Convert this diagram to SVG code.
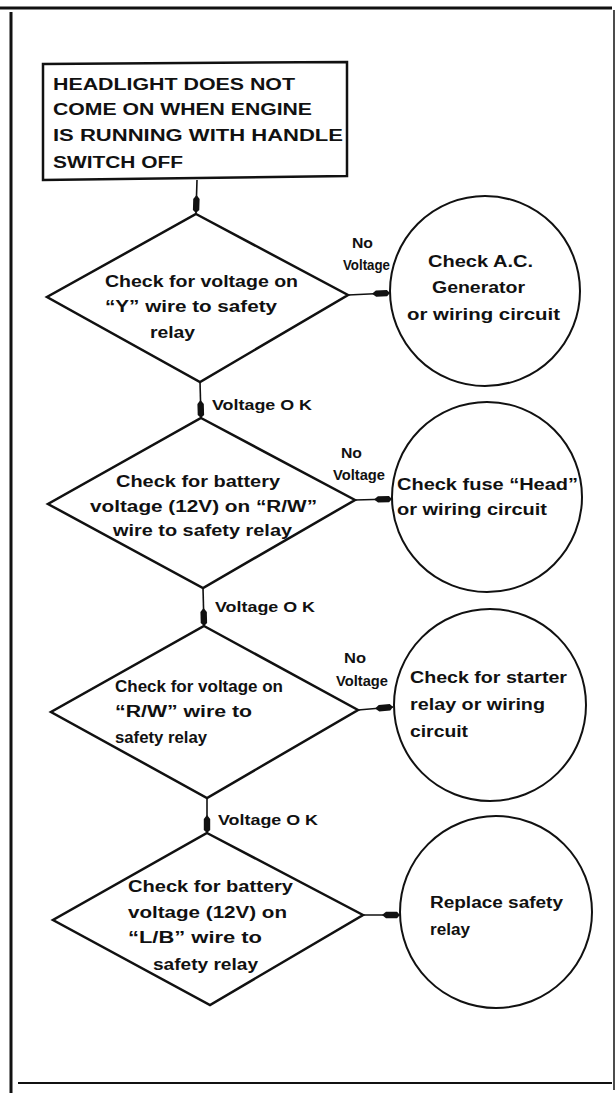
<svg xmlns="http://www.w3.org/2000/svg" width="616" height="1093" viewBox="0 0 616 1093">
<defs>
<style>
.t{font-family:"Liberation Sans",Arial,Helvetica,sans-serif;font-weight:bold;font-size:16px;fill:#111}
.s{font-size:14px}
.m{font-size:15px}
.shape{fill:#fff;stroke:#111;stroke-width:2.5;stroke-linejoin:miter}
.circ{fill:#fff;stroke:#111;stroke-width:2}
.frame{stroke:#111;fill:none}
.conn{stroke:#111;stroke-width:1.6;fill:none}
</style>
<marker id="ah" markerUnits="userSpaceOnUse" markerWidth="20" markerHeight="10" refX="18" refY="5" orient="auto">
<path d="M0,5 L4,1.8 L15,1.8 L18,5 L15,8.2 L4,8.2 Z" fill="#111"/>
</marker>
</defs>
<rect width="616" height="1093" fill="#fff"/>
<g id="frame">
<line class="frame" x1="0" y1="8" x2="612" y2="8" stroke-width="3"/>
<line class="frame" x1="11" y1="12" x2="11" y2="1093" stroke-width="3"/>
<line class="frame" x1="614" y1="10" x2="614" y2="1090" stroke-width="1.5"/>
<line class="frame" x1="18" y1="1083" x2="612" y2="1083" stroke-width="2"/>
</g>
<g id="connectors">
<path class="conn" d="M197,180 L196,213" marker-end="url(#ah)"/>
<path class="conn" d="M200,382 L201,418" marker-end="url(#ah)"/>
<path class="conn" d="M203,588 L204,626" marker-end="url(#ah)"/>
<path class="conn" d="M207,798 L207,833" marker-end="url(#ah)"/>
<path class="conn" d="M348,295 L390,293" marker-end="url(#ah)"/>
<path class="conn" d="M355,500 L392,499" marker-end="url(#ah)"/>
<path class="conn" d="M358,710 L393,707" marker-end="url(#ah)"/>
<path class="conn" d="M363,915 L400,915" marker-end="url(#ah)"/>
<text class="t s" x="352" y="248" textLength="21" lengthAdjust="spacingAndGlyphs">No</text>
<text class="t s" x="343" y="270" textLength="47" lengthAdjust="spacingAndGlyphs">Voltage</text>
<text class="t s" x="341" y="458" textLength="21" lengthAdjust="spacingAndGlyphs">No</text>
<text class="t s" x="333" y="480" textLength="52" lengthAdjust="spacingAndGlyphs">Voltage</text>
<text class="t s" x="344" y="663" textLength="22" lengthAdjust="spacingAndGlyphs">No</text>
<text class="t s" x="336" y="686" textLength="52" lengthAdjust="spacingAndGlyphs">Voltage</text>
<text class="t m" x="212" y="410" textLength="100" lengthAdjust="spacingAndGlyphs">Voltage O K</text>
<text class="t m" x="215" y="612" textLength="100" lengthAdjust="spacingAndGlyphs">Voltage O K</text>
<text class="t m" x="218" y="825" textLength="100" lengthAdjust="spacingAndGlyphs">Voltage O K</text>
</g>
<g id="start">
<path class="shape" d="M43,64 L347,62 L347,176 L43,180 Z"/>
<text class="t" x="53" y="90" textLength="242" lengthAdjust="spacingAndGlyphs">HEADLIGHT DOES NOT</text>
<text class="t" x="53" y="115" textLength="259" lengthAdjust="spacingAndGlyphs">COME ON WHEN ENGINE</text>
<text class="t" x="53" y="141" textLength="290" lengthAdjust="spacingAndGlyphs">IS RUNNING WITH HANDLE</text>
<text class="t" x="53" y="168" textLength="130" lengthAdjust="spacingAndGlyphs">SWITCH OFF</text>
</g>
<g id="d1">
<path class="shape" d="M196,214 L348,295 L200,382 L47,297 Z"/>
<text class="t" x="105" y="287" textLength="193" lengthAdjust="spacingAndGlyphs">Check for voltage on</text>
<text class="t" x="105" y="312" textLength="172" lengthAdjust="spacingAndGlyphs">“Y” wire to safety</text>
<text class="t" x="150" y="338" textLength="45" lengthAdjust="spacingAndGlyphs">relay</text>
</g>
<g id="c1">
<circle class="circ" cx="485" cy="291" r="95"/>
<text class="t" x="428" y="267" textLength="105" lengthAdjust="spacingAndGlyphs">Check A.C.</text>
<text class="t" x="432" y="293" textLength="93" lengthAdjust="spacingAndGlyphs">Generator</text>
<text class="t" x="407" y="320" textLength="153" lengthAdjust="spacingAndGlyphs">or wiring circuit</text>
</g>
<g id="d2">
<path class="shape" d="M201,418 L355,500 L203,588 L48,504 Z"/>
<text class="t" x="116" y="487" textLength="164" lengthAdjust="spacingAndGlyphs">Check for battery</text>
<text class="t" x="90" y="512" textLength="227" lengthAdjust="spacingAndGlyphs">voltage (12V) on “R/W”</text>
<text class="t" x="113" y="536" textLength="179" lengthAdjust="spacingAndGlyphs">wire to safety relay</text>
</g>
<g id="c2">
<circle class="circ" cx="487" cy="497" r="95"/>
<text class="t" x="397" y="490" textLength="181" lengthAdjust="spacingAndGlyphs">Check fuse “Head”</text>
<text class="t" x="397" y="515" textLength="150" lengthAdjust="spacingAndGlyphs">or wiring circuit</text>
</g>
<g id="d3">
<path class="shape" d="M204,626 L358,710 L207,798 L51,712 Z"/>
<text class="t" x="115" y="692" textLength="168" lengthAdjust="spacingAndGlyphs">Check for voltage on</text>
<text class="t" x="115" y="717" textLength="137" lengthAdjust="spacingAndGlyphs">“R/W” wire to</text>
<text class="t" x="115" y="743" textLength="92" lengthAdjust="spacingAndGlyphs">safety relay</text>
</g>
<g id="c3">
<circle class="circ" cx="490" cy="705" r="96"/>
<text class="t" x="410" y="683" textLength="157" lengthAdjust="spacingAndGlyphs">Check for starter</text>
<text class="t" x="410" y="710" textLength="135" lengthAdjust="spacingAndGlyphs">relay or wiring</text>
<text class="t" x="410" y="737" textLength="58" lengthAdjust="spacingAndGlyphs">circuit</text>
</g>
<g id="d4">
<path class="shape" d="M207,833 L363,915 L210,1005 L53,920 Z"/>
<text class="t" x="128" y="892" textLength="165" lengthAdjust="spacingAndGlyphs">Check for battery</text>
<text class="t" x="128" y="918" textLength="159" lengthAdjust="spacingAndGlyphs">voltage (12V) on</text>
<text class="t" x="128" y="943" textLength="134" lengthAdjust="spacingAndGlyphs">“L/B” wire to</text>
<text class="t" x="153" y="970" textLength="105" lengthAdjust="spacingAndGlyphs">safety relay</text>
</g>
<g id="c4">
<circle class="circ" cx="496" cy="912" r="96"/>
<text class="t" x="430" y="908" textLength="133" lengthAdjust="spacingAndGlyphs">Replace safety</text>
<text class="t" x="430" y="935" textLength="40" lengthAdjust="spacingAndGlyphs">relay</text>
</g>
</svg>
